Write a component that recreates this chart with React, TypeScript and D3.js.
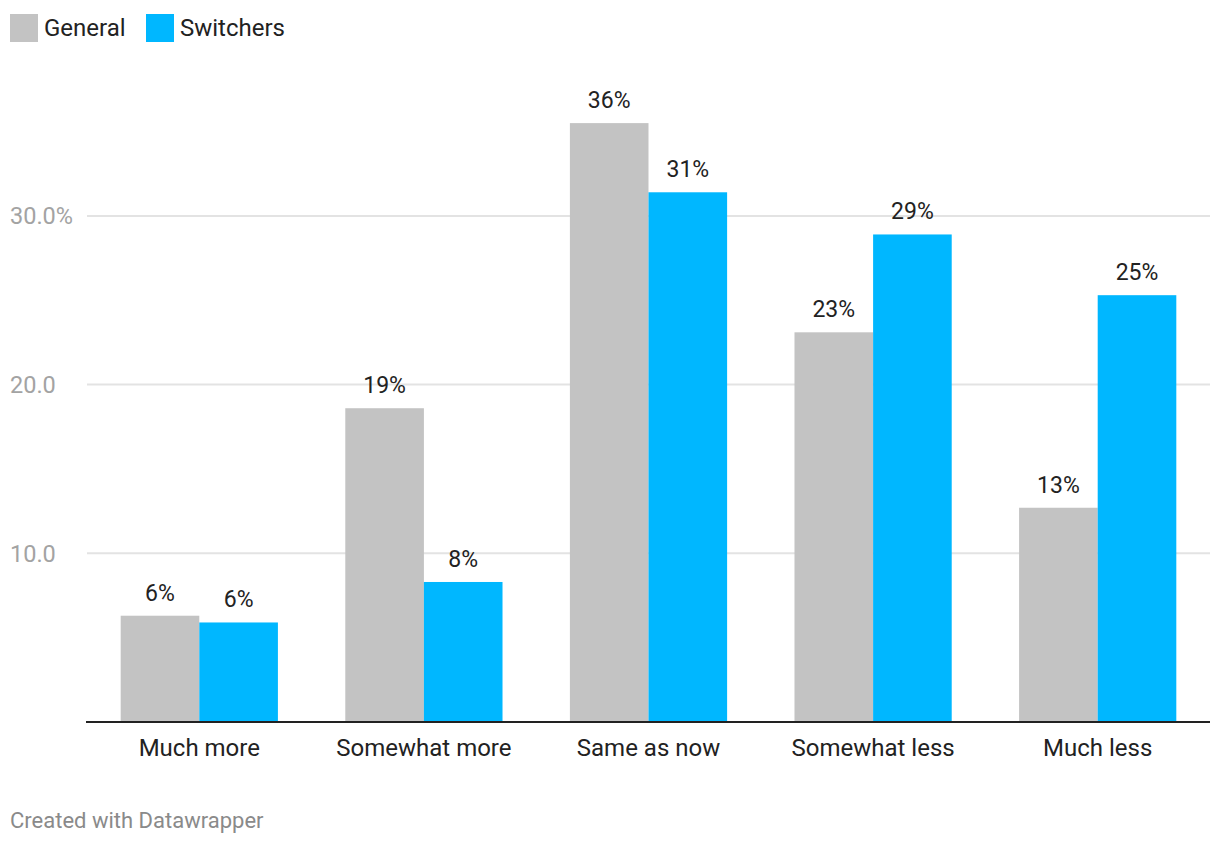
import React from 'react';
import * as d3 from 'd3';

const categories = ['Much more', 'Somewhat more', 'Same as now', 'Somewhat less', 'Much less'];
const seriesNames = ['General', 'Switchers'];
const generalValues = [6.3, 18.6, 35.5, 23.1, 12.7];
const switcherValues = [5.9, 8.3, 31.4, 28.9, 25.3];
const yTicks = [10, 20, 30];
const colors = ['#c3c3c3', '#00b7ff'];

const W = 1220;
const H = 844;
const margin = { left: 87, right: 10, top: 0, bottom: 0 };
const baseY = 722;
const font = 'Roboto, sans-serif';

export default function App() {
  const x = d3
    .scaleBand<string>()
    .domain(categories)
    .range([margin.left, W - margin.right])
    .paddingInner(0.3)
    .paddingOuter(0.15);

  const xs = d3.scaleBand<string>().domain(seriesNames).range([0, x.bandwidth()]);

  // 10 units ~ 168.7px
  const y = d3.scaleLinear().domain([0, 30]).range([baseY, baseY - 3 * 168.7]);

  const series = [generalValues, switcherValues];

  return (
    <svg
      width={W}
      height={H}
      style={{ position: 'absolute', left: 0, top: 0, background: '#fff' }}
      fontFamily={font}
    >
      {/* legend */}
      {seriesNames.map((name, i) => {
        const lx = i === 0 ? 10 : 146;
        return (
          <g key={name} transform={`translate(${lx},14)`}>
            <rect width={28} height={28} fill={colors[i]} />
            <text x={34} y={14} dy="0.35em" fontSize={24} fill="#222">
              {name}
            </text>
          </g>
        );
      })}

      {/* gridlines */}
      {yTicks.map((t) => (
        <g key={t}>
          <line
            x1={margin.left}
            x2={W - margin.right}
            y1={y(t)}
            y2={y(t)}
            stroke="#e3e3e3"
            strokeWidth={2}
          />
          <text x={10} y={y(t)} dy="0.35em" fontSize={23.5} fill="#a3a3a3">
            {t === 30 ? `${t.toFixed(1)}%` : t.toFixed(1)}
          </text>
        </g>
      ))}

      {/* bars */}
      {categories.map((c, ci) => (
        <g key={c} transform={`translate(${x(c)},0)`}>
          {series.map((vals, si) => {
            const v = vals[ci];
            const bx = xs(seriesNames[si])!;
            return (
              <g key={si}>
                <rect
                  x={bx}
                  y={y(v)}
                  width={xs.bandwidth()}
                  height={baseY - y(v)}
                  fill={colors[si]}
                />
                <text
                  x={bx + xs.bandwidth() / 2}
                  y={y(v) - 15}
                  textAnchor="middle"
                  fontSize={23}
                  fill="#222"
                >
                  {`${Math.round(v)}%`}
                </text>
              </g>
            );
          })}
          <text
            x={x.bandwidth() / 2}
            y={756}
            textAnchor="middle"
            fontSize={24}
            fill="#222"
          >
            {c}
          </text>
        </g>
      ))}

      {/* baseline */}
      <line x1={margin.left - 1} x2={W - margin.right} y1={baseY} y2={baseY} stroke="#222" strokeWidth={2} />

      <text x={10} y={828} fontSize={22} fill="#8a8a8a">
        Created with Datawrapper
      </text>
    </svg>
  );
}
